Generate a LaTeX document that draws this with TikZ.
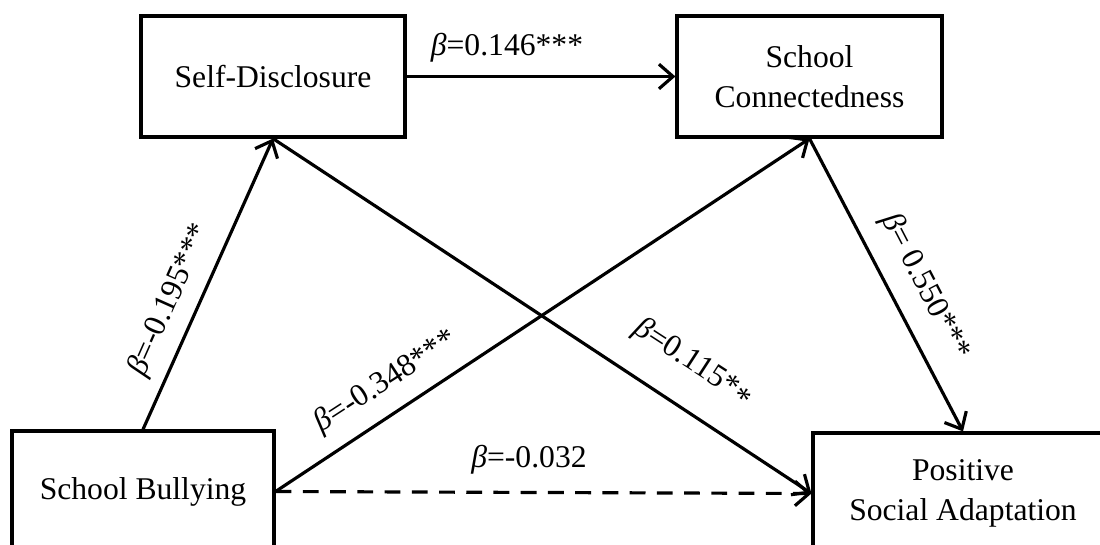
\documentclass[tikz,border=0pt]{standalone}
\usepackage{fontspec}
\setmainfont{Liberation Serif}
\usepackage{tikz}
\usetikzlibrary{calc,arrows.meta}

\begin{document}
\begin{tikzpicture}[line width=1.8pt,
    varbox/.style={rectangle,draw,minimum height=2.42cm,align=center,inner sep=2pt,font=\fontsize{18}{23}\selectfont},
    coef/.style={inner sep=1pt,font=\fontsize{18}{23}\selectfont},
    path/.style={-{Straight Barb[length=8pt,width=14pt]}},
    ns/.style={path,dash pattern=on 9pt off 6.5pt}]
            \useasboundingbox (0,0) rectangle (22,10.88);
            % variables
            \node (sd) at (5.46,9.35) [varbox,minimum width=5.28cm] {Self-Disclosure};
            \node (sc) at (16.19,9.35) [varbox,minimum width=5.3cm] {School\\Connectedness};
            \node (sb) at (2.86,1.05) [varbox,minimum width=5.24cm] {School Bullying};
            \node (psa) at (19.26,1.01) [varbox,minimum width=6cm] {Positive\\Social Adaptation};
            % paths
            \draw [path](sd.east) -- (sc.west);
            \draw [path](sb.north) -- (sd.south);
            \draw [path](sd.south) -- (psa.west);
            \draw [path](sb.east) -- (sc.south);
            \draw [path](sc.south) -- (psa.north);
            \draw [ns](sb.east) -- (psa.west);
            % coefficients
            \node (c146) at (10.14,9.92) [coef] {\textit{β}=0.146***};
            \node (c195) at (3.4,4.88) [coef,rotate=66] {\textit{β}=-0.195***};
            \node (c348) at (7.72,3.24) [coef,rotate=33] {\textit{β}=-0.348***};
            \node (c115) at (13.86,3.62) [coef,rotate=-33] {\textit{β}=0.115*\raisebox{-0.4ex}{*}};
            \node (c550) at (18.5,5.14) [coef,rotate=-62.5] {\textit{β}= 0.550***};
            \node (c032) at (10.58,1.68) [coef] {\textit{β}=-0.032};
        \end{tikzpicture}
\end{document}
